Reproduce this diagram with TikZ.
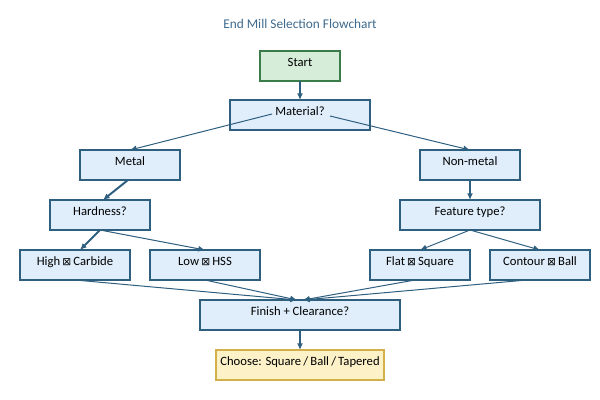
\documentclass[tikz,border=0pt]{standalone}
\usepackage{fontspec}
\setmainfont{Carlito}
\newfontfamily\boxglyph{DejaVu Sans}
\usepackage{xcolor}
\usepackage{tikz}
\usetikzlibrary{arrows.meta,positioning}

\definecolor{boxline}{HTML}{2F5F7F}
\definecolor{boxfill}{HTML}{E0EEFB}
\definecolor{startline}{HTML}{3A7D4A}
\definecolor{startfill}{HTML}{D6EDDA}
\definecolor{endline}{HTML}{D4B04A}
\definecolor{endfill}{HTML}{FDF1C8}
\definecolor{titlecol}{HTML}{3D6A8E}

\newcommand{\tofu}{\,{\boxglyph\footnotesize ⊠}\,}

\begin{document}
\begin{tikzpicture}[
    x=0.75pt, y=-0.75pt,
    box/.style={draw=boxline, fill=boxfill, line width=1.5pt, outer sep=0pt, minimum width=75pt, minimum height=22.5pt,
      text height=4pt, text depth=4pt, align=center, font=\fontsize{9.5}{11}\selectfont},
    arr/.style={-{Latex[length=5pt,width=4.5pt]}, draw=boxline, line width=0.75pt},
    thickarr/.style={arr, line width=1.5pt}
  ]
    \useasboundingbox (0,0) rectangle (600,400);
    \node[font=\fontsize{10}{12}\selectfont, text=titlecol] (title) at (300,24) {End Mill Selection Flowchart};
    \node[box, draw=startline, fill=startfill, minimum width=60pt] (start) at (300,66) {Start};
    \node[box, below=14.25pt of start, minimum width=105pt] (mat) {Material?};
    \node[box, below=15pt of mat, xshift=-127.5pt] (metal) {Metal};
    \node[box, below=15pt of mat, xshift=127.5pt] (nonmetal) {Non-metal};
    \node[box, below=15pt of metal, xshift=-22.5pt] (hard) {Hardness?};
    \node[box, below=15pt of nonmetal, minimum width=105pt] (feat) {Feature type?};
    \node[box, below=15pt of hard, xshift=-18.75pt, minimum width=82.5pt] (high) {High\tofu Carbide};
    \node[box, right=15pt of high, minimum width=82.5pt] (low) {Low\tofu HSS};
    \node[box, below=15pt of feat, xshift=-37.5pt] (flat) {Flat\tofu Square};
    \node[box, right=15pt of flat] (contour) {Contour\tofu Ball};
    \node[box, anchor=north, minimum width=150pt] (fin) at ([yshift=-15pt]mat |- low.south) {Finish + Clearance?};
    \node[box, draw=endline, fill=endfill, below=15pt of fin, minimum width=120pt] (choose) {Choose: Square\,/\,Ball\,/\,Tapered};

    \draw[thickarr] (start) -- (mat);
    \draw[arr] ([xshift=-21pt,yshift=0.75pt]mat.center) -- (metal.north);
    \draw[arr] ([xshift=22.5pt,yshift=-0.75pt]mat.center) -- (nonmetal.north);
    \draw[thickarr] ([xshift=-1.5pt]metal.south) -- ([xshift=2.25pt]hard.north);
    \draw[thickarr] (nonmetal) -- (feat);
    \draw[thickarr] (hard.south) -- ([xshift=3.75pt]high.north);
    \draw[arr] (hard.south) -- (low.north);
    \draw[arr] (feat.south) -- (flat.north);
    \draw[arr] (feat.south) -- (contour.north);
    \draw[arr] (high.south) -- ([xshift=-2.25pt]fin.north);
    \draw[arr] (low.south) -- ([xshift=-2.25pt]fin.north);
    \draw[arr] ([xshift=-3.75pt]flat.south) -- ([xshift=2.25pt]fin.north);
    \draw[arr] ([xshift=-9.75pt]contour.south) -- ([xshift=2.25pt]fin.north);
    \draw[thickarr] (fin) -- (choose);
  \end{tikzpicture}
\end{document}
